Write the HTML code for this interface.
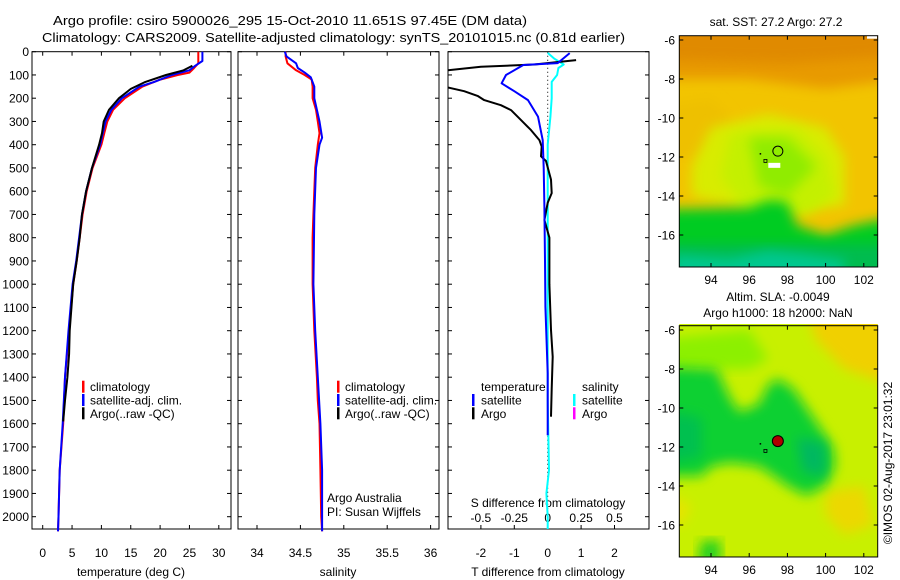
<!DOCTYPE html>
<html><head><meta charset="utf-8"><style>
body{margin:0;background:#fff;}
svg{display:block;font-family:"Liberation Sans",sans-serif;}
text{fill:#000;}
</style></head><body>
<svg id="chart" width="900" height="580" viewBox="0 0 900 580">
<defs>
<filter id="blur1" x="-20%" y="-20%" width="140%" height="140%"><feGaussianBlur stdDeviation="6"/></filter>
<clipPath id="clipM1"><rect x="679.3" y="35.7" width="198.4" height="231.3"/></clipPath>
<clipPath id="clipM2"><rect x="679.3" y="324" width="198.4" height="232.7"/></clipPath>
<clipPath id="clipP3"><rect x="448" y="51.7" width="201" height="477.3"/></clipPath>
</defs>
<text x="53" y="25" font-size="13" textLength="474" lengthAdjust="spacingAndGlyphs">Argo profile: csiro 5900026_295 15-Oct-2010 11.651S 97.45E (DM data)</text>
<text x="42" y="42" font-size="13" textLength="583" lengthAdjust="spacingAndGlyphs">Climatology: CARS2009. Satellite-adjusted climatology: synTS_20101015.nc (0.81d earlier)</text>
<g id="panels"></g>
<g id="maps"></g>
<text transform="translate(892,463) rotate(-90)" font-size="12" text-anchor="middle">©IMOS 02-Aug-2017 23:01:32</text>
</svg>
<script>
// ---- data ----
const depthTicks = [0,100,200,300,400,500,600,700,800,900,1000,1100,1200,1300,1400,1500,1600,1700,1800,1900,2000];
const tempTicks = [0,5,10,15,20,25,30];
const salTicks = [34,34.5,35,35.5,36];
const salTickLabels = ["34","34.5","35","35.5","36"];
const tdTicks = [-2,-1,0,1,2];
const sdTicks = [-0.5,-0.25,0,0.25,0.5];
const sdTickLabels = ["-0.5","-0.25","0","0.25","0.5"];

const tClimDepth = [0,50,70,90,100,120,150,200,250,300,350,400,500,600,700,800,900,1000,1200,1400,1600,1800,2000,2063];
const tClimVal   = [26.5,26.5,25.8,25,23,20,17,14,12,11,10.5,10,8.5,7.5,6.8,6.3,5.8,5.2,4.5,3.8,3.5,2.9,2.7,2.6];
const tSatDepth = [0,40,60,80,100,130,150,200,250,300,400,500,600,700,800,900,1000,1200,1400,1600,1800,2000,2063];
const tSatVal   = [27.2,27.2,26,25,22,19,16.5,13.5,11.7,10.7,9.8,8.4,7.4,6.7,6.2,5.7,5.1,4.4,3.8,3.4,2.9,2.7,2.6];
const tArgoDepth = [60,80,100,130,160,200,250,300,350,400,500,600,700,800,900,1000,1200,1300,1400,1500,1590];
const tArgoVal   = [25.5,24,21,17.5,15,13,11.3,10.4,10.1,9.6,8.4,7.4,6.7,6.3,5.8,5.2,4.6,4.5,4.2,3.8,3.5];

const sClimDepth = [0,20,50,80,100,120,150,200,250,300,350,400,500,600,700,800,1000,1200,1400,1500,1600,1800,2000,2063];
const sClimVal   = [34.33,34.33,34.35,34.45,34.55,34.63,34.64,34.64,34.68,34.7,34.72,34.7,34.67,34.66,34.65,34.64,34.64,34.66,34.69,34.7,34.72,34.73,34.74,34.75];
const sSatDepth = [0,20,50,70,90,110,150,200,300,370,400,500,700,1000,1200,1400,1600,1800,2000,2063];
const sSatVal   = [34.32,34.34,34.45,34.47,34.55,34.62,34.66,34.66,34.72,34.75,34.72,34.68,34.66,34.65,34.67,34.7,34.73,34.75,34.75,34.75];

const dtSatDepth = [6,49,57,100,136,170,208,279,380,500,667,900,1097,1383,1650];
const dtSatVal   = [0.66,0.3,-0.73,-1.25,-1.38,-1.0,-0.59,-0.29,-0.15,-0.12,-0.1,-0.08,-0.07,0,0];
const dtArgoDepth = [36,55,65,80,93,150,170,190,208,230,251,294,337,380,408,450,470,550,608,650,724,800,900,1000,1197,1312,1450,1570];
const dtArgoVal   = [0.85,-0.4,-2,-3,-3.3,-3.1,-2.5,-2.1,-1.9,-1.4,-1.1,-0.8,-0.5,-0.25,-0.18,-0.2,-0.05,0.1,0.12,0,-0.1,0.05,0.05,0.05,0.1,0.15,0.12,0.1];
const dsSatDepth = [5,30,55,70,100,130,200,280,400,600,1000,1500,1800,1900,2000,2063];
const dsSatVal   = [0,0.05,0.12,0.08,0.07,0.03,0.03,0.02,0,0,0,0,0.01,-0.01,0,0];

const mapLonTicks = [94,96,98,100,102];
const mapLatTicks = [-6,-8,-10,-12,-14,-16];

// ---- helpers ----
const NS = "http://www.w3.org/2000/svg";
function mk(tag, attrs, parent){const e=document.createElementNS(NS,tag);for(const k in attrs)e.setAttribute(k,attrs[k]);parent.appendChild(e);return e;}
const yD = d => 51.7 + d*0.2325;
const panels = document.getElementById('panels');
const maps = document.getElementById('maps');

function frame(x0,x1,name){
  const r=mk('rect',{x:x0,y:51.7,width:x1-x0,height:477.3,fill:'none',stroke:'#000','stroke-width':1},panels);
  
  
  depthTicks.forEach(d=>{
    mk('line',{x1:x0,x2:x0+4,y1:yD(d),y2:yD(d),stroke:'#000'},panels);
    mk('line',{x1:x1,x2:x1-4,y1:yD(d),y2:yD(d),stroke:'#000'},panels);
  });
}
function xTicks(vals,labels,xf,yBase,yLab,name,top){
  vals.forEach((v,i)=>{
    const x=xf(v);
    mk('line',{x1:x,x2:x,y1:529,y2:525,stroke:'#000'},panels);
    if(top) mk('line',{x1:x,x2:x,y1:51.7,y2:55.7,stroke:'#000'},panels);
    const t=mk('text',{x:x,y:yLab,'font-size':12,'text-anchor':'middle'},panels);
    t.textContent=labels[i];
    
    
  });
}
function line(depths,vals,xf,color,name,clip){
  const pts=depths.map((d,i)=>xf(vals[i]).toFixed(1)+','+yD(d).toFixed(1)).join(' ');
  const p=mk('polyline',{points:pts,fill:'none',stroke:color,'stroke-width':2,'stroke-linejoin':'round'},panels);
  if(clip)p.setAttribute('clip-path','url(#'+clip+')');
  
  
}
function label(x,y,txt,name,size,anchor){
  const t=mk('text',{x:x,y:y,'font-size':size||12,'text-anchor':anchor||'start'},panels);
  t.textContent=txt;
  
  
  return t;
}
function legendRow(bx,tx,y,color,txt,name){
  mk('rect',{x:bx,y:y-6,width:2.5,height:12,fill:color},panels);
  const t=label(tx,y+4.5,txt,name);
}

// ---- panel 1: temperature ----
const xT = v => 42.7 + v*5.87;
frame(32,231,'temperature-panel');
depthTicks.forEach(d=>{label(29,yD(d)+4.5,String(d),'depth-tick-label',12,'end');});
xTicks(tempTicks,tempTicks.map(String),xT,529,557,'temperature-tick-label',true);
label(131,576,'temperature (deg C)','temperature-axis-title',12,'middle');
line(tClimDepth,tClimVal,xT,'#f00','temp-climatology-line');
line(tSatDepth,tSatVal,xT,'#00f','temp-satellite-line');
line(tArgoDepth,tArgoVal,xT,'#000','temp-argo-line');
legendRow(82,90,386.7,'#f00','climatology','legend-climatology');
legendRow(82,90,400,'#00f','satellite-adj. clim.','legend-satellite');
legendRow(82,90,413.3,'#000','Argo(..raw -QC)','legend-argo');

// ---- panel 2: salinity ----
const xS = v => 257 + (v-34)*86.8;
frame(238,439,'salinity-panel');
xTicks(salTicks,salTickLabels,xS,529,557,'salinity-tick-label',true);
label(338,576,'salinity','salinity-axis-title',12,'middle');
line(sClimDepth,sClimVal,xS,'#f00','sal-climatology-line');
line(sSatDepth,sSatVal,xS,'#00f','sal-satellite-line');
legendRow(337,345,386.7,'#f00','climatology','legend-climatology');
legendRow(337,345,400,'#00f','satellite-adj. clim.','legend-satellite');
legendRow(337,345,413.3,'#000','Argo(..raw -QC)','legend-argo');
label(327,502,'Argo Australia','argo-australia-note');
label(327,516,'PI: Susan Wijffels','pi-note');

// ---- panel 3: differences ----
const xDT = v => 547.7 + v*33.4;
const xDS = v => 547.7 + v*133.6;
frame(448,649,'difference-panel');
xTicks(tdTicks,tdTicks.map(String),xDT,529,557,'t-diff-tick-label',false);
sdTicks.forEach((v,i)=>{label(xDS(v),522,sdTickLabels[i],'s-diff-tick-label',12,'middle');});
label(548,507,'S difference from climatology','s-diff-axis-title',12,'middle');
label(548,576,'T difference from climatology','t-diff-axis-title',12,'middle');
mk('line',{x1:547.7,x2:547.7,y1:51.7,y2:529,stroke:'#000','stroke-dasharray':'1,3'},panels);
line(dsSatDepth,dsSatVal,xDS,'#0ff','s-diff-satellite-line','clipP3');
line(dtArgoDepth,dtArgoVal,xDT,'#000','t-diff-argo-line','clipP3');
line(dtSatDepth,dtSatVal,xDT,'#00f','t-diff-satellite-line','clipP3');
label(481,391,'temperature','legend-temperature-header');
legendRow(472,481,400,'#00f','satellite','legend-t-satellite');
legendRow(472,481,413.3,'#000','Argo','legend-t-argo');
label(582,391,'salinity','legend-salinity-header');
legendRow(573,582,400,'#0ff','satellite','legend-s-satellite');
legendRow(573,582,413.3,'#f0f','Argo','legend-s-argo');

// ---- maps ----
const lonX = lon => 711 + (lon-94)*19.1;
function drawMap(top,clip,name,shapes){
  const g=mk('g',{'clip-path':'url(#'+clip+')'},maps);
  
  
  const latY = lat => top + (-6-lat)*19.5;
  shapes(g,latY);
  const r=mk('rect',{x:679.3,y:latY(-5.78),width:198.4,height:latY(-17.64)-latY(-5.78),fill:'none',stroke:'#000'},maps);
  mapLonTicks.forEach(l=>{
    const x=lonX(l);
    mk('line',{x1:x,x2:x,y1:latY(-5.78),y2:latY(-5.78)+4,stroke:'#000'},maps);
    mk('line',{x1:x,x2:x,y1:latY(-17.64),y2:latY(-17.64)-4,stroke:'#000'},maps);
    const t=mk('text',{x:x,y:latY(-17.64)+17,'font-size':12,'text-anchor':'middle'},maps);
    t.textContent=String(l);
    
    
  });
  mapLatTicks.forEach(l=>{
    const y=latY(l);
    mk('line',{x1:679.3,x2:683.3,y1:y,y2:y,stroke:'#000'},maps);
    mk('line',{x1:877.7,x2:873.7,y1:y,y2:y,stroke:'#000'},maps);
    const t=mk('text',{x:675,y:y+4.5,'font-size':12,'text-anchor':'end'},maps);
    t.textContent=String(l);
    
    
  });
  return latY;
}
function poly(g,pts,latY,fill,blur){
  const p=mk('polygon',{points:pts.map(q=>lonX(q[0]).toFixed(1)+','+latY(q[1]).toFixed(1)).join(' '),fill:fill},g);
  if(blur)p.setAttribute('filter','url(#blur1)');
}
// map 1 SST
drawMap(40,'clipM1','sst-map',(g,latY)=>{
  mk('rect',{x:670,y:20,width:220,height:260,fill:'#f2c400'},g);
  poly(g,[[91,-5],[104,-5],[104,-8],[100,-8.5],[96,-8],[91,-8]],latY,'#e89a00',true);
  poly(g,[[91,-5],[104,-5],[104,-6.8],[98,-7.2],[91,-7]],latY,'#e08a00',true);
  poly(g,[[91,-9.5],[94,-9],[95,-10],[93.5,-12],[91,-12]],latY,'#eec000',true);
  poly(g,[[94,-10.5],[97,-9.8],[100,-10.5],[101,-12],[101,-14.5],[96,-14.7],[93,-14],[93,-12.5]],latY,'#d8ec00',true);
  poly(g,[[95,-10.8],[98.5,-10.6],[100,-12],[100.5,-14],[99,-15],[96,-14.8],[94.5,-13]],latY,'#c4f000',true);
  poly(g,[[96,-11],[98,-11],[99.5,-12.5],[98,-14],[96.5,-13.5]],latY,'#90ec00',true);
  poly(g,[[91,-14.7],[96,-14.6],[97,-14.2],[98,-14.3],[98.5,-15.5],[100,-16],[101.5,-15.5],[104,-15],[104,-19],[91,-19]],latY,'#00cc20',true);
  poly(g,[[91,-16.5],[104,-16.5],[104,-19],[91,-19]],latY,'#00bc50',true);
  poly(g,[[92,-17],[95,-17.2],[97,-16.8],[99,-17],[101,-17.3],[101,-19],[92,-19]],latY,'#00c890',true);
  mk('rect',{x:lonX(97),y:latY(-12.3),width:12,height:5,fill:'#fff'},g);
  mk('rect',{x:867,y:35.7,width:10,height:3,fill:'#fff'},g);
  mk('circle',{cx:lonX(97.5),cy:latY(-11.7),r:5,fill:'none',stroke:'#000','stroke-width':1},g);
  mk('rect',{x:lonX(96.6)-1,y:latY(-11.85)-1,width:1.5,height:1.5,fill:'#000'},g);
  mk('rect',{x:lonX(96.85)-1.5,y:latY(-12.2)-1.5,width:3,height:3,fill:'none',stroke:'#000','stroke-width':0.8},g);
});
// map 2 SLA
drawMap(330,'clipM2','sla-map',(g,latY)=>{
  mk('rect',{x:670,y:310,width:220,height:260,fill:'#c8f000'},g);
  poly(g,[[99,-5],[104,-5],[104,-9],[101,-8],[99.5,-6.5]],latY,'#f0d000',true);
  poly(g,[[100,-14.3],[102,-14],[102.5,-16],[101,-16.5],[100,-15.5]],latY,'#ecd800',true);
  poly(g,[[91,-14],[93,-15],[92.5,-16],[91,-16]],latY,'#e6e400',true);
  poly(g,[[91,-6.5],[96,-6],[97,-7.5],[96,-8],[91,-8]],latY,'#8cf000',true);
  poly(g,[[92.3,-7.9],[94.3,-8],[95,-9.5],[95.5,-10.2],[96.5,-9.8],[97,-8.8],[97.5,-8.5],[98.3,-9],[99,-10],[99.7,-11],[100.4,-12],[100.5,-13],[100,-14],[99,-14.5],[98,-14],[97.3,-13.5],[96.5,-13],[95,-12.8],[94,-13],[93.5,-13.5],[91,-13.5],[91,-7.9]],latY,'#10d030',true);
  poly(g,[[91,-10],[93.5,-10.5],[93.5,-12.5],[91,-13]],latY,'#00c050',true);
  poly(g,[[98.5,-11.5],[100,-11.8],[100,-13.5],[98.8,-13.3]],latY,'#00b860',true);
  poly(g,[[93.5,-16.8],[94.5,-16.8],[94.5,-18],[93.3,-18]],latY,'#20d020',true);
  mk('circle',{cx:lonX(97.5),cy:latY(-11.7),r:5.5,fill:'#b00000',stroke:'#000','stroke-width':1},g);
  mk('rect',{x:lonX(96.6)-1,y:latY(-11.85)-1,width:1.5,height:1.5,fill:'#000'},g);
  mk('rect',{x:lonX(96.85)-1.5,y:latY(-12.2)-1.5,width:3,height:3,fill:'none',stroke:'#000','stroke-width':0.8},g);
});
function mt(x,y,txt,name){const t=mk('text',{x:x,y:y,'font-size':12,'text-anchor':'middle'},maps);t.textContent=txt;
  
  }
mt(776,26,'sat. SST: 27.2 Argo: 27.2','sst-map-title');
mt(778,301,'Altim. SLA: -0.0049','sla-map-title-1');
mt(778,317,'Argo h1000: 18 h2000: NaN','sla-map-title-2');
</script>
</body></html>
